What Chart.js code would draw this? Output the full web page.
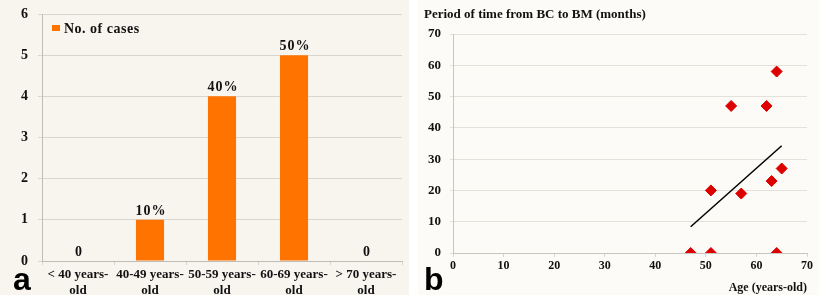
<!DOCTYPE html>
<html>
<head>
<meta charset="utf-8">
<script src="https://cdn.jsdelivr.net/npm/chart.js@4.4.1/dist/chart.umd.min.js"></script>
<style>
    body { margin: 0; background: #ffffff; width: 819px; height: 295px; position: relative; overflow: hidden; }
    #boxA { position: absolute; left: 0; top: 0; width: 409px; height: 295px; }
    #boxB { position: absolute; left: 418px; top: 0; width: 401px; height: 295px; }
</style>
</head>
<body>
<div id="boxA"><canvas id="casesChart"></canvas></div>
<div id="boxB"><canvas id="periodChart"></canvas></div>
<script>
// panel a
const ageGroups = [["< 40 years-", "old"], ["40-49 years-", "old"], ["50-59 years-", "old"], ["60-69 years-", "old"], ["> 70 years-", "old"]];
const cases = [0, 1, 4, 5, 0];
const caseLabels = ["0", "10%", "40%", "50%", "0"];

// panel b
const ages = [47, 51, 51, 55, 57, 62, 63, 64, 64, 65];
const months = [0, 0, 20, 47, 19, 47, 23, 58, 0, 27];
const trendAges = [47, 65];
const trendMonths = [8.4, 34.3];

const serif = "'Liberation Serif', 'DejaVu Serif', serif";
const gridGrey = "#d9d6d0";

function panelBackground(color) {
    return {
        id: "bg",
        beforeDraw(chart) {
            const ctx = chart.ctx;
            ctx.save();
            ctx.fillStyle = color;
            ctx.fillRect(0, 0, chart.width, chart.height);
            ctx.restore();
        }
    };
}

function panelLetter(letter, x, y, size) {
    return {
        id: "letter",
        afterDraw(chart) {
            const ctx = chart.ctx;
            ctx.save();
            ctx.fillStyle = "#000";
            ctx.font = "bold " + size + "px 'Liberation Sans', Arial, sans-serif";
            ctx.textBaseline = "alphabetic";
            ctx.fillText(letter, x, y);
            ctx.restore();
        }
    };
}

const barLabels = {
    id: "barLabels",
    afterDatasetsDraw(chart) {
        const ctx = chart.ctx;
        const meta = chart.getDatasetMeta(0);
        ctx.save();
        ctx.fillStyle = "#111";
        ctx.font = "bold 14px " + serif;
        ctx.letterSpacing = "1px";
        ctx.textAlign = "center";
        ctx.textBaseline = "alphabetic";
        meta.data.forEach((bar, i) => {
            ctx.fillText(caseLabels[i], bar.x + 1, bar.y - 5);
        });
        // legend
        const ds = chart.data.datasets[0];
        ctx.fillStyle = ds.backgroundColor;
        ctx.fillRect(52, 25, 8, 6);
        ctx.fillStyle = "#111";
        ctx.letterSpacing = "0.5px";
        ctx.textAlign = "left";
        ctx.textBaseline = "middle";
        ctx.fillText(ds.label, 64, 29);
        ctx.restore();
    }
};

new Chart(document.getElementById("casesChart"), {
    type: "bar",
    data: {
        labels: ageGroups,
        datasets: [{
            label: "No. of cases",
            data: cases,
            backgroundColor: "#ff7300",
            barPercentage: 0.39,
            categoryPercentage: 1.0
        }]
    },
    options: {
        responsive: true,
        maintainAspectRatio: false,
        animation: false,
        layout: {padding: {top: 14, right: 7, left: 0, bottom: 0}},
        plugins: {legend: {display: false}, tooltip: {enabled: false}},
        scales: {
            x: {
                grid: {display: true, drawOnChartArea: false, offset: true, color: gridGrey, tickLength: 4},
                border: {color: "#bfbcb6"},
                ticks: {color: "#111", font: {family: serif, size: 13, weight: "bold"}, padding: 2, maxRotation: 0, autoSkip: false},
                afterFit(scale) { scale.height = 34; }
            },
            y: {
                min: 0, max: 6,
                ticks: {stepSize: 1, color: "#111", font: {family: serif, size: 14, weight: "bold"}, padding: 10},
                grid: {color: gridGrey, tickLength: 4},
                border: {color: "#bfbcb6"},
                afterFit(scale) { scale.width = 42; scale.paddingTop = 0; scale.paddingBottom = 0; }
            }
        }
    },
    plugins: [panelBackground("#f8f4ee"), barLabels, panelLetter("a", 13, 290, 32)]
});

const axisTitle = {
    id: "axisTitle",
    afterDraw(chart) {
        const ctx = chart.ctx;
        ctx.save();
        ctx.fillStyle = "#111";
        ctx.font = "bold 13px " + serif;
        ctx.textBaseline = "middle";
        ctx.fillText("Period of time from BC to BM (months)", 6, 15);
        ctx.restore();
    }
};

new Chart(document.getElementById("periodChart"), {
    type: "scatter",
    data: {
        datasets: [{
            label: "Cases",
            data: ages.map((a, i) => ({x: a, y: months[i]})),
            pointStyle: "rectRot",
            pointRadius: 5.5,
            backgroundColor: "#dd0000",
            borderColor: "#dd0000",
            order: 1
        }, {
            type: "line",
            label: "Trend",
            data: trendAges.map((a, i) => ({x: a, y: trendMonths[i]})),
            borderColor: "#000",
            borderWidth: 1.5,
            pointRadius: 0,
            order: 2
        }]
    },
    options: {
        responsive: true,
        maintainAspectRatio: false,
        animation: false,
        layout: {padding: {top: 34, right: 12, left: 0, bottom: 0}},
        plugins: {legend: {display: false}, tooltip: {enabled: false}},
        scales: {
            x: {
                type: "linear", min: 0, max: 70,
                ticks: {stepSize: 10, color: "#111", font: {family: serif, size: 12, weight: "bold"}, padding: 2},
                grid: {display: true, drawOnChartArea: false, color: gridGrey, tickLength: 4},
                border: {color: "#c9c6c0"},
                title: {display: true, align: "end", text: "Age (years-old)", color: "#111", font: {family: serif, size: 12, weight: "bold"}, padding: {top: 5, bottom: 0}},
                afterFit(scale) { scale.height = 42; }
            },
            y: {
                min: 0, max: 70,
                ticks: {stepSize: 10, color: "#111", font: {family: serif, size: 13, weight: "bold"}, padding: 9},
                grid: {color: "#e4e1db", tickLength: 3},
                border: {color: "#c9c6c0"},
                afterFit(scale) { scale.width = 35; }
            }
        }
    },
    plugins: [panelBackground("#fcfbf7"), axisTitle, panelLetter("b", 6, 290, 32)]
});
</script>
</body>
</html>
